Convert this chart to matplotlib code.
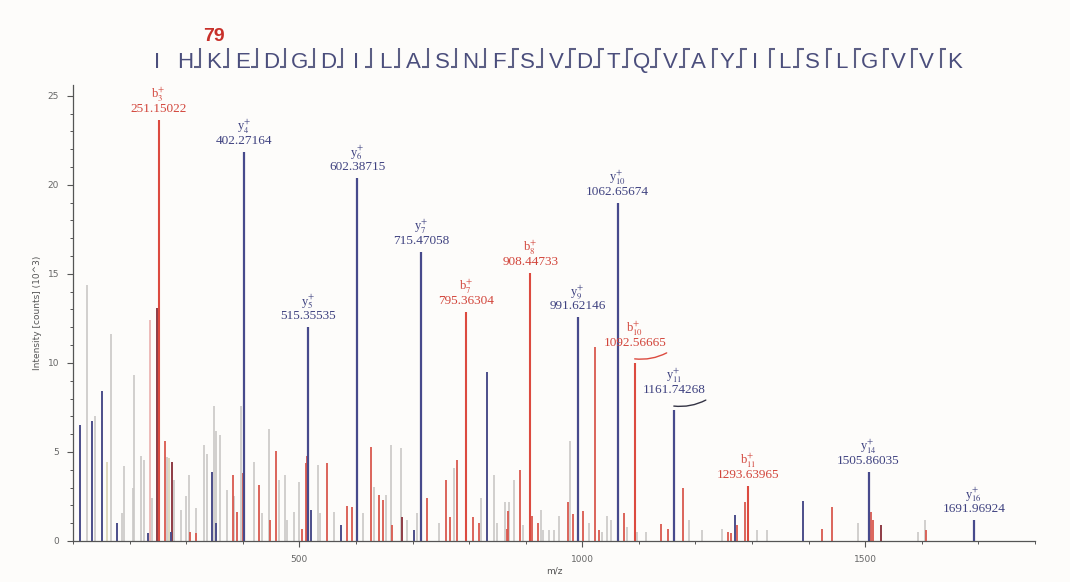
import matplotlib
matplotlib.use("Agg")
from matplotlib import pyplot as plt
from matplotlib.ticker import MultipleLocator
from matplotlib.transforms import offset_copy


# annotated fragment ions
b_mz = [251.15022, 795.36304, 908.44733, 1092.56665, 1293.63965]
b_int = [23.65, 12.85, 15.05, 10.0, 3.1]
b_name = ["3", "7", "8", "10", "11"]

y_mz = [402.27164, 515.35535, 602.38715, 715.47058, 991.62146,
        1062.65674, 1161.74268, 1505.86035, 1691.96924]
y_int = [21.85, 12.0, 20.4, 16.2, 12.55, 18.95, 7.35, 3.9, 1.2]
y_name = ["4", "5", "6", "7", "9", "10", "11", "14", "16"]

# labels that carry a small underline stroke
underlined = ["1092.56665", "1161.74268"]

# unassigned / minor peaks
gray_mz = [124, 138.6, 168, 187, 190, 206.4, 207.5, 219.4, 225.3, 240,
           266.5, 278.3, 291.3, 299, 304.8, 316.6, 331.3, 336, 349, 352,
           359.6, 372.6, 384.4, 396, 419.7, 434.4, 446.2, 463.9, 473.9, 478.6,
           490.4, 499.2, 532.8, 536.4, 561.1, 613, 631.8, 652.4, 661.3, 680.1,
           690.7, 708.4, 746.7, 773.2, 820.4, 844, 849.8, 862.7, 870.5, 880,
           896, 927.3, 930, 942, 950, 959, 978, 1011, 1035.5, 1044.5,
           1051, 1079, 1097, 1113, 1189, 1212, 1247, 1309.2, 1326, 1488,
           1592.5, 1605]
gray_int = [14.4, 7.0, 11.6, 1.55, 4.2, 3.0, 9.3, 4.8, 4.55, 2.4,
            4.7, 3.4, 1.75, 2.5, 3.7, 1.85, 5.4, 4.9, 7.6, 6.2,
            5.95, 2.85, 2.5, 7.6, 4.45, 1.55, 6.3, 3.4, 3.7, 1.2,
            1.65, 3.3, 4.25, 1.55, 1.65, 1.55, 3.05, 2.6, 5.4, 5.2,
            1.2, 1.55, 1.0, 4.1, 2.4, 3.7, 1.0, 2.2, 2.2, 3.4,
            0.9, 1.75, 0.6, 0.6, 0.6, 1.4, 5.6, 1.0, 0.5, 1.4,
            1.2, 0.8, 0.5, 0.5, 1.2, 0.6, 0.7, 0.6, 0.6, 1.0,
            0.5, 1.2]

red_mz = [261.8, 306, 318, 383.2, 390.2, 400.9, 429.1, 448, 458, 505.1,
          511.5, 513.5, 549.3, 583.5, 593.5, 627.1, 640.7, 648.3, 664.2, 724.9,
          759.7, 766.2, 779.1, 807.4, 817.4, 867.5, 869, 889.3, 911, 921,
          975, 984, 1002, 1023, 1029, 1073, 1139.6, 1151, 1178.8, 1256.8,
          1263, 1272.6, 1288.4, 1423.4, 1440.5, 1510, 1513, 1608]
red_int = [5.6, 0.5, 0.45, 3.7, 1.65, 3.8, 3.15, 1.2, 5.05, 0.7,
           4.4, 4.75, 4.4, 1.95, 1.9, 5.3, 2.6, 2.3, 0.9, 2.4,
           3.45, 1.35, 4.55, 1.35, 1.0, 0.7, 1.7, 4.0, 1.4, 1.0,
           2.2, 1.5, 1.7, 10.9, 0.6, 1.6, 0.95, 0.7, 2.95, 0.5,
           0.45, 0.9, 2.2, 0.7, 1.9, 1.65, 1.2, 0.6]

maroon_mz = [248.5, 275.3, 681.9, 1527]
maroon_int = [13.1, 4.45, 1.35, 0.9]

blue_mz = [112.1, 134, 151, 177, 232.3, 272.4, 346, 353.1, 519.9, 572.9,
           702.5, 831, 1269.4, 1389.8]
blue_int = [6.5, 6.75, 8.4, 1.0, 0.45, 0.5, 3.9, 1.0, 1.75, 0.9,
            0.6, 9.5, 1.45, 2.25]

tan_mz = [160.5, 269.5]
tan_int = [4.45, 4.65]

pink_mz = [236]
pink_int = [12.4]

# peptide sequence and fragment markers after each residue
sequence = list("IHKEDGDILASNFSVDTQVAYILSLGVVK")
# "" none, "b" bottom hook, "y" top hook, "by" both
cleavage = ["", "b", "b", "b", "b", "b", "b", "b", "b", "b",
            "b", "b", "by", "b", "by", "by", "by", "by", "by", "y",
            "by", "y", "by", "y", "y", "y", "y", "y"]
site_index = 2
site_label = "79"

RED = "#dc4a3f"
RED_TXT = "#d2453b"
BLUE = "#474a8c"
BLUE_TXT = "#3f4280"
SEQ_COLOR = "#4b4e7c"

plt.rcParams["mathtext.fontset"] = "stix"

fig = plt.figure(figsize=(10.7, 5.82), dpi=100, facecolor="#fdfcfa")
ax = fig.add_axes([73 / 1070, 41 / 582, 962 / 1070, 456 / 582])
ax.set_facecolor("#fdfcfa")

ax.vlines(gray_mz, 0, gray_int, colors="#cac8c6", lw=1.2)
ax.vlines(tan_mz, 0, tan_int, colors="#d9d3b4", lw=1.2)
ax.vlines(pink_mz, 0, pink_int, colors="#eab0ae", lw=1.2)
ax.vlines(red_mz, 0, red_int, colors="#d9594e", lw=1.3)
ax.vlines(maroon_mz, 0, maroon_int, colors="#8e3b45", lw=1.4)
ax.vlines(blue_mz, 0, blue_int, colors="#4c4e8a", lw=1.4)
ax.vlines(b_mz, 0, b_int, colors=RED, lw=1.5)
ax.vlines(y_mz, 0, y_int, colors=BLUE, lw=1.6)


def label_peak(mz, h, ion, color):
    txt = f"{mz:.5f}"
    lift = 9 if txt in underlined else 0
    num_off = offset_copy(ax.transData, fig=fig, x=0, y=5 + lift, units="dots")
    ion_off = offset_copy(ax.transData, fig=fig, x=0, y=16 + lift, units="dots")
    ax.text(mz, h, txt, transform=num_off, ha="center", va="bottom",
            fontsize=9.5, family="Liberation Serif", color=color)
    ax.text(mz, h, ion, transform=ion_off, ha="center", va="bottom",
            fontsize=9, family="Liberation Serif", color=color)
    if lift:
        col = RED if color == RED_TXT else "#333344"
        ax.annotate("", xy=(mz, h),
                    xycoords=offset_copy(ax.transData, fig=fig, x=32, y=10, units="dots"),
                    xytext=(mz, h),
                    textcoords=offset_copy(ax.transData, fig=fig, x=0, y=4, units="dots"),
                    arrowprops=dict(arrowstyle="-", color=col, lw=1.0, shrinkA=0, shrinkB=0,
                                    connectionstyle="arc3,rad=0.15"))


for mz, h, n in zip(b_mz, b_int, b_name):
    label_peak(mz, h, r"b$_{%s}^{+}$" % n, RED_TXT)
for mz, h, n in zip(y_mz, y_int, y_name):
    label_peak(mz, h, r"y$_{%s}^{+}$" % n, BLUE_TXT)

ax.set_xlim(100, 1800)
ax.set_ylim(0, 25.6)
ax.xaxis.set_major_locator(MultipleLocator(500))
ax.xaxis.set_minor_locator(MultipleLocator(100))
ax.yaxis.set_major_locator(MultipleLocator(5))
ax.yaxis.set_minor_locator(MultipleLocator(1))
for s in ["top", "right"]:
    ax.spines[s].set_visible(False)
for s in ["left", "bottom"]:
    ax.spines[s].set_color("#555555")
    ax.spines[s].set_linewidth(0.9)
ax.tick_params(which="major", length=4, width=0.8, color="#555555",
               labelsize=6.5, labelcolor="#666666", pad=6)
ax.tick_params(which="minor", length=2.5, width=0.7, color="#555555")
ax.set_xlabel("m/z", fontsize=6.5, color="#555555", labelpad=2)
ax.set_ylabel("Intensity [counts] (10^3)", fontsize=6.5, color="#555555", labelpad=4)

# sequence with fragment markers
n = len(sequence)
seq_ax = fig.add_axes([142.75 / 1070, (582 - 72) / 582, 28.5 * n / 1070, 28 / 582])
seq_ax.set_xlim(-0.5, n - 0.5)
seq_ax.set_ylim(0, 1)
seq_ax.axis("off")
for i, aa in enumerate(sequence):
    seq_ax.text(i, 0.16, aa, ha="center", va="baseline", fontsize=16,
                family="Liberation Sans", color=SEQ_COLOR)
for i, c in enumerate(cleavage):
    if not c:
        continue
    x = i + 0.5
    seq_ax.plot([x, x], [0.16, 0.84], color="#5c5f84", lw=1.5, solid_capstyle="butt")
    if "b" in c:
        seq_ax.plot([x, x - 0.2], [0.17, 0.17], color="#5c5f84", lw=1.5, solid_capstyle="butt")
    if "y" in c:
        seq_ax.plot([x, x + 0.2], [0.83, 0.83], color="#5c5f84", lw=1.5, solid_capstyle="butt")
seq_ax.text(site_index, 0.95, site_label, ha="center", va="bottom", fontsize=14,
            family="Liberation Sans", weight="bold", color="#c8302a", clip_on=False)

fig.savefig("out.png", dpi=100, facecolor=fig.get_facecolor())
